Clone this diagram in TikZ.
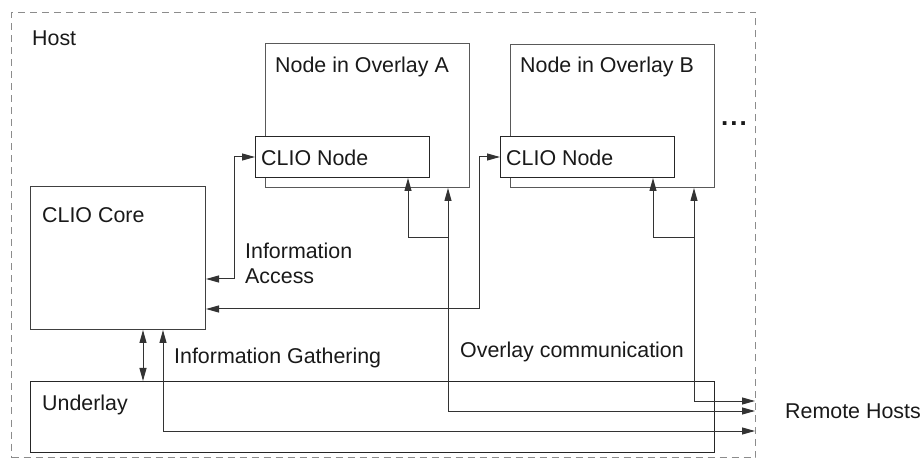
\documentclass[tikz,border=0pt]{standalone}
\usepackage{fontspec}
\setmainfont{Liberation Sans}
\usetikzlibrary{arrows.meta}
\begin{document}
\begin{tikzpicture}[x=1pt,y=-1pt,
  every node/.style={font=\fontsize{21.4}{25}\selectfont},
  box/.style={draw=black!75, line width=1pt, inner sep=0pt, anchor=north west},
  txt/.style={anchor=west, inner sep=0pt, text=black!90, align=left},
  arr/.style={draw=black!80, line width=1pt, {Triangle[length=13pt,width=7pt]}-{Triangle[length=13pt,width=7pt]}},
  arrone/.style={draw=black!80, line width=1pt, -{Triangle[length=13pt,width=7pt]}}]
\useasboundingbox (0,0) rectangle (924,462);
% host
\node[box, draw=black!45, dashed, dash pattern=on 7pt off 5pt, minimum width=744pt, minimum height=445pt] (host) at (11,12) {};
\node[txt] (hostt) at (32,38) {Host};
% overlay nodes
\node[box, draw=black!65, minimum width=204pt, minimum height=144pt] (ovA) at (265,43) {};
\node[txt] (ovAt) at (275,67) {Node in Overlay A};
\node[box, draw=black!65, minimum width=204pt, minimum height=143pt] (ovB) at (510,44) {};
\node[txt] (ovBt) at (520,67) {Node in Overlay B};
\node[box, fill=white, draw=black!85, minimum width=174pt, minimum height=41pt] (clA) at (255,136) {};
\node[txt] (clAt) at (261,158) {CLIO Node};
\node[box, fill=white, draw=black!85, minimum width=174pt, minimum height=41pt] (clB) at (500,136) {};
\node[txt] (clBt) at (506,158) {CLIO Node};
\node[txt, font=\fontsize{26}{30}\selectfont\bfseries] (dots) at (721,124) {.\kern2pt.\kern2pt.};
% core and underlay
\node[box, minimum width=175pt, minimum height=143pt] (core) at (30,186) {};
\node[txt] (coret) at (42,215) {CLIO Core};
\node[box, draw=black!85, minimum width=684pt, minimum height=71pt] (under) at (30,381) {};
\node[txt] (undert) at (42,405) {Underlay};
% labels
\node[txt] (iat) at (245,263.5) {Information\\Access};
\node[txt] (igt) at (174,358) {Information Gathering};
\node[txt] (oct) at (460,352) {Overlay communication};
\node[txt] (rht) at (785,411) {Remote Hosts};
% coordinates
\coordinate (ia) at (234,279);
\coordinate (ib) at (479,309);
\coordinate (aX) at (448,238);
\coordinate (aX2) at (408,238);
\coordinate (bX) at (694,238);
\coordinate (bX2) at (653,238);
\coordinate (rB) at (755,401);
\coordinate (rA) at (755,411);
\coordinate (g) at (163,431);
\coordinate (rG) at (755,431);
\coordinate (cu) at (143,0);
% connectors
\draw[arr] (core.east |- ia) -- (ia) -- (ia |- clA.west) -- (clA.west);
\draw[arr] (core.east |- ib) -- (ib) -- (ib |- clB.west) -- (clB.west);
\draw[arr] (ovA.south -| aX) -- (aX |- rA) -- (rA);
\draw[arrone] (aX) -- (aX2) -- (clA.south -| aX2);
\draw[arr] (ovB.south -| bX) -- (bX |- rB) -- (rB);
\draw[arrone] (bX) -- (bX2) -- (clB.south -| bX2);
\draw[arr] (core.south -| g) -- (g) -- (rG);
\draw[arr] (core.south -| cu) -- (under.north -| cu);
\end{tikzpicture}
\end{document}
